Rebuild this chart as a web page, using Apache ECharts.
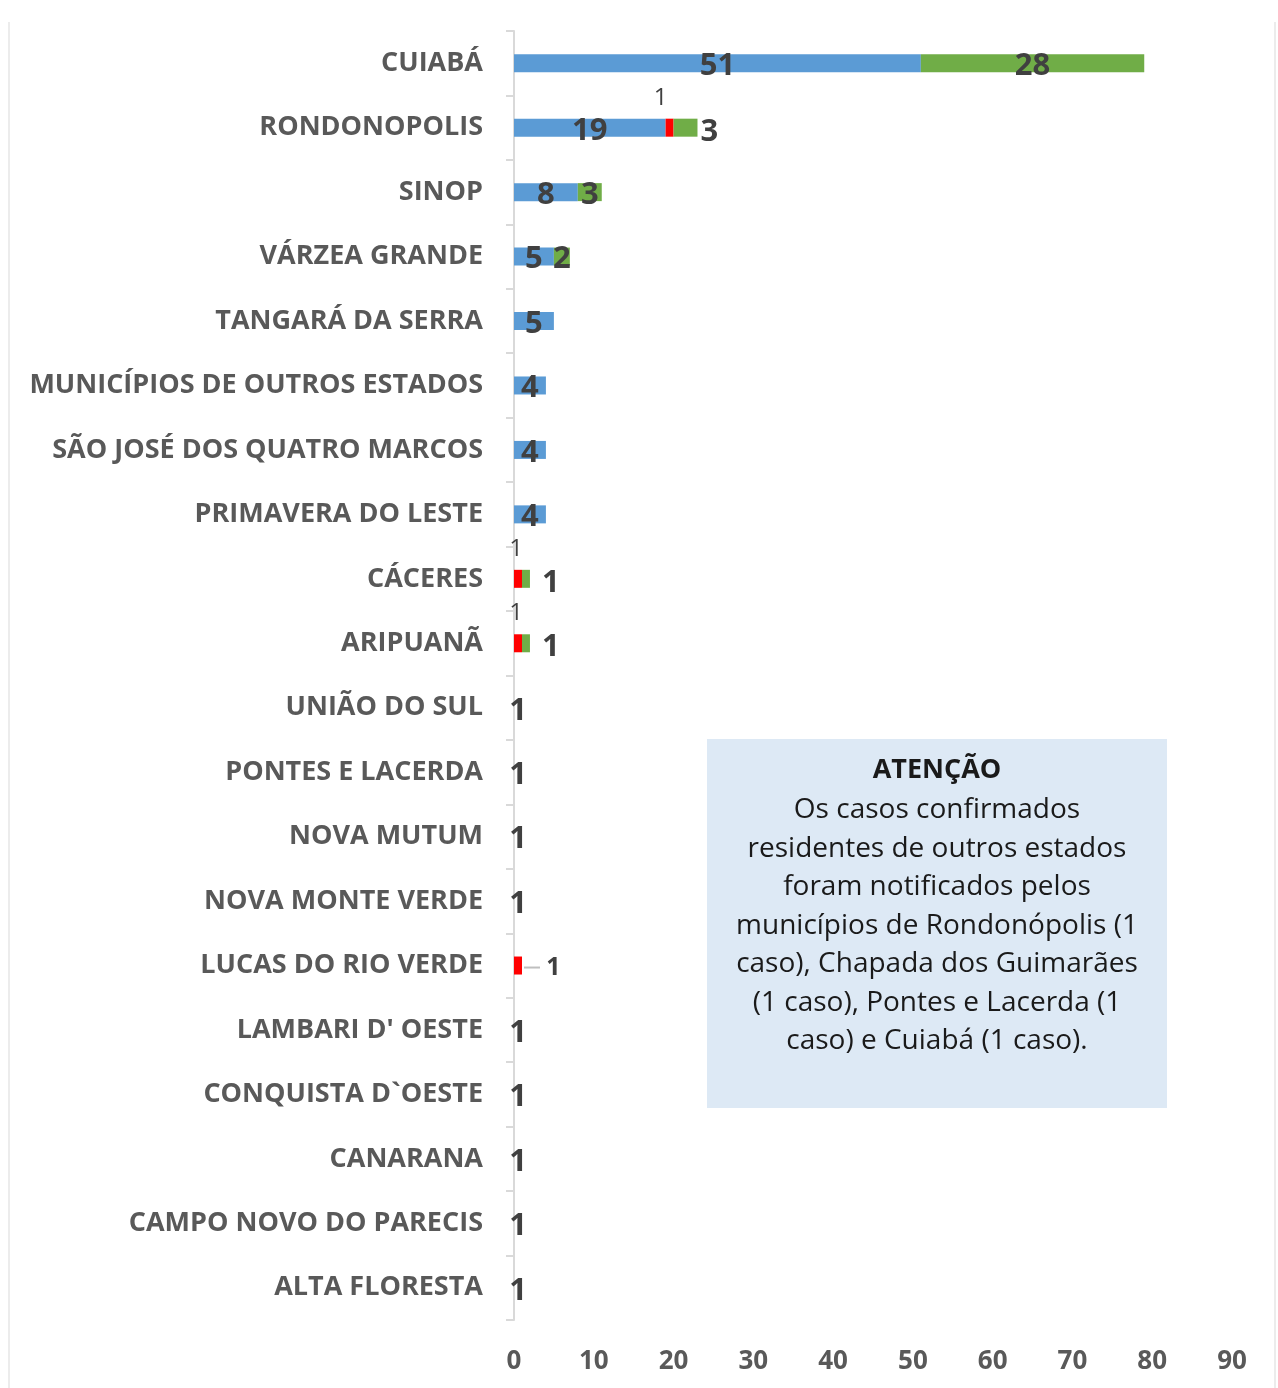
<!DOCTYPE html>
<html>
<head>
<meta charset="utf-8">
<script src="https://cdn.jsdelivr.net/npm/echarts@6/dist/echarts.min.js"></script>
<style>
  html, body { margin: 0; padding: 0; background: #fff; }
  #main { width: 1278px; height: 1388px; }
</style>
</head>
<body>
<div id="main"></div>
<script>
// municipios, de cima para baixo
const municipios = ['CUIABÁ', 'RONDONOPOLIS', 'SINOP', 'VÁRZEA GRANDE', 'TANGARÁ DA SERRA',
    'MUNICÍPIOS DE OUTROS ESTADOS', 'SÃO JOSÉ DOS QUATRO MARCOS', 'PRIMAVERA DO LESTE',
    'CÁCERES', 'ARIPUANÃ', 'UNIÃO DO SUL', 'PONTES E LACERDA', 'NOVA MUTUM',
    'NOVA MONTE VERDE', 'LUCAS DO RIO VERDE', "LAMBARI D' OESTE", 'CONQUISTA D`OESTE',
    'CANARANA', 'CAMPO NOVO DO PARECIS', 'ALTA FLORESTA']
const azul = [51, 19, 8, 5, 5, 4, 4, 4, '-', '-', '-', '-', '-', '-', '-', '-', '-', '-', '-', '-']
const vermelho = ['-', 1, '-', '-', '-', '-', '-', '-', 1, 1, '-', '-', '-', '-', 1, '-', '-', '-', '-', '-']
const verde = [28, 3, 3, 2, '-', '-', '-', '-', 1, 1, '-', '-', '-', '-', '-', '-', '-', '-', '-', '-']
const semBarra = ['-', '-', '-', '-', '-', '-', '-', '-', '-', '-', 1, 1, 1, 1, '-', 1, 1, 1, 1, 1]
const xTicks = [0, 10, 20, 30, 40, 50, 60, 70, 80, 90]

const nota = 'Os casos confirmados\nresidentes de outros estados\nforam notificados pelos\nmunicípios de Rondonópolis (1\ncaso), Chapada dos Guimarães\n(1 caso), Pontes e Lacerda (1\ncaso) e Cuiabá (1 caso).'

const fonte = '"Open Sans", "Noto Sans", sans-serif'
const bigLabel = {
    show: true,
    position: 'inside',
    fontFamily: fonte,
    fontSize: 31,
    fontWeight: 'bold',
    color: '#404040',
    offset: [0, 3]
}

var chartDom = document.getElementById('main');
var myChart = echarts.init(chartDom);

// verde: os de fora da barra
const verdeFora = [1, 8, 9]
const verdeData = verde.map((v, i) => {
    if (verdeFora.indexOf(i) >= 0 && v !== '-') {
        return {value: v, label: {position: 'right', distance: i == 1 ? 3 : 12, offset: [0, 4]}}
    }
    return v
})
const vermelhoData = vermelho.map((v, i) => {
    if (v === '-') return v
    if (i == 14) {
        // lucas do rio verde: rotulo com tracinho
        return {
            value: v,
            label: {
                position: 'right', distance: 2, offset: [0, 2],
                formatter: '{ln|} {v|{c}}',
                rich: {
                    ln: {width: 16, height: 2, backgroundColor: '#bfbfbf'},
                    v: {fontFamily: fonte, fontSize: 25, fontWeight: 'bold', color: '#404040'}
                }
            }
        }
    }
    return {value: v, label: {position: 'top', distance: 9, offset: [i == 1 ? -9 : -2, 0]}}
})

const option = {
    animation: false,
    grid: {left: 514, right: 46, top: 31, bottom: 68, containLabel: false},
    xAxis: {
        type: 'value',
        min: 0,
        max: 90,
        interval: 10,
        splitLine: {show: false},
        axisLine: {show: false},
        axisTick: {show: false},
        axisLabel: {
            margin: 29,
            fontFamily: fonte,
            fontSize: 26,
            fontWeight: 'bold',
            color: '#595959',
            formatter: v => xTicks.indexOf(v) >= 0 ? String(v) : ''
        }
    },
    yAxis: {
        type: 'category',
        inverse: true,
        data: municipios,
        axisLine: {show: true, lineStyle: {color: '#d9d9d9', width: 2}},
        axisTick: {show: true, length: 8, lineStyle: {color: '#d9d9d9', width: 2}},
        axisLabel: {
            margin: 31,
            fontFamily: fonte,
            fontSize: 27,
            fontWeight: 'bold',
            color: '#595959'
        }
    },
    graphic: [
        {type: 'line', shape: {x1: 9, y1: 22, x2: 9, y2: 1388}, style: {stroke: '#ececec', lineWidth: 2}, silent: true},
        {type: 'line', shape: {x1: 1275, y1: 22, x2: 1275, y2: 1388}, style: {stroke: '#ececec', lineWidth: 2}, silent: true},
        {
            type: 'rect', z: 10,
            shape: {x: 707, y: 739, width: 460, height: 369},
            style: {fill: '#dde9f5'}
        },
        {
            type: 'text', z: 11,
            style: {
                x: 937, y: 757, text: 'ATENÇÃO', textAlign: 'center', textVerticalAlign: 'top',
                font: 'bold 27px ' + fonte, fill: '#1a1a1a'
            }
        },
        {
            type: 'text', z: 11,
            style: {
                x: 937, y: 791, text: nota, textAlign: 'center', textVerticalAlign: 'top',
                font: '28px ' + fonte, fill: '#1a1a1a', lineHeight: 38.5
            }
        }
    ],
    series: [
        {
            name: 'azul', type: 'bar', stack: 'total', barWidth: 18,
            itemStyle: {color: '#5b9bd5'},
            label: bigLabel,
            data: azul
        },
        {
            name: 'vermelho', type: 'bar', stack: 'total', barWidth: 18,
            itemStyle: {color: '#ff0000'},
            label: {
                show: true,
                fontFamily: fonte,
                fontSize: 24,
                color: '#404040'
            },
            data: vermelhoData
        },
        {
            name: 'verde', type: 'bar', stack: 'total', barWidth: 18,
            itemStyle: {color: '#70ad47'},
            label: bigLabel,
            data: verdeData
        },
        {
            name: 'semBarra', type: 'bar', stack: 'total', barWidth: 18,
            itemStyle: {color: 'rgba(255,255,255,0)'},
            label: bigLabel,
            data: semBarra
        }
    ]
};

option && myChart.setOption(option);
</script>
</body>
</html>
